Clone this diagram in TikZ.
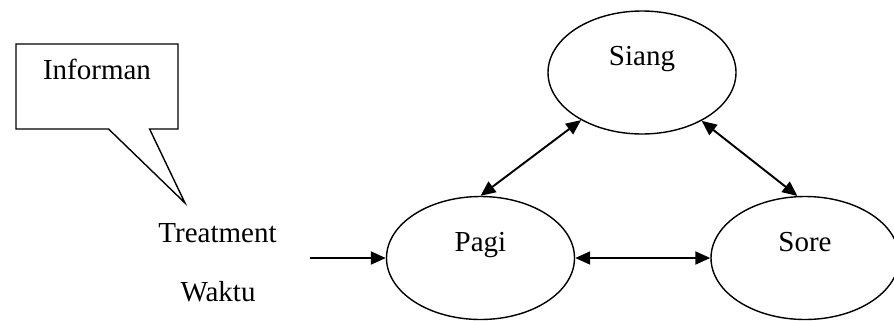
\documentclass[tikz,border=0pt]{standalone}
\usepackage{fontspec}
\setmainfont{Liberation Serif}
\usetikzlibrary{positioning, arrows.meta, shapes.geometric, shapes.callouts}

\begin{document}
\begin{tikzpicture}[
        font=\fontsize{16.5}{20}\selectfont,
        >={Triangle[length=0.3cm, width=0.26cm]},
        time/.style={draw, ellipse, line width=0.8pt, minimum width=3.76cm, minimum height=2.46cm, text height=8pt, text depth=15.5pt},
        bubble/.style={draw, rectangle callout, line width=0.8pt, minimum width=3.24cm, minimum height=1.7cm, text height=8pt, text depth=15.5pt, callout pointer width=0.82cm},
        plain/.style={inner sep=0pt, anchor=base},
        arrow/.style={line width=1.1pt}
    ]
    \useasboundingbox (0,0) rectangle (17.88,6.4);

    \node[time] (Pagi) at (9.61,1.24) {Pagi};
    \node[time] (Siang) at (12.84,4.95) {Siang};
    \node[time] (Sore) at (16.1,1.24) {Sore};

    \coordinate (Tip) at (3.70,2.34);
    \node[bubble, callout absolute pointer={(Tip)}] (Informan) at (1.94,4.67) {Informan};

    \node[plain] (Treatment) at (4.35,1.56) {Treatment};
    \node[plain] (Waktu) at (4.36,0.38) {Waktu};

    \coordinate (Start) at (6.2,1.24);
    \draw[arrow, ->] (Start) -- (Pagi);
    \draw[arrow, <->] (Pagi) -- (Sore);
    \draw[arrow, <->] (Pagi.north) -- (Siang.218);
    \draw[arrow, <->] (Siang.321) -- (Sore.97);

\end{tikzpicture}
\end{document}
